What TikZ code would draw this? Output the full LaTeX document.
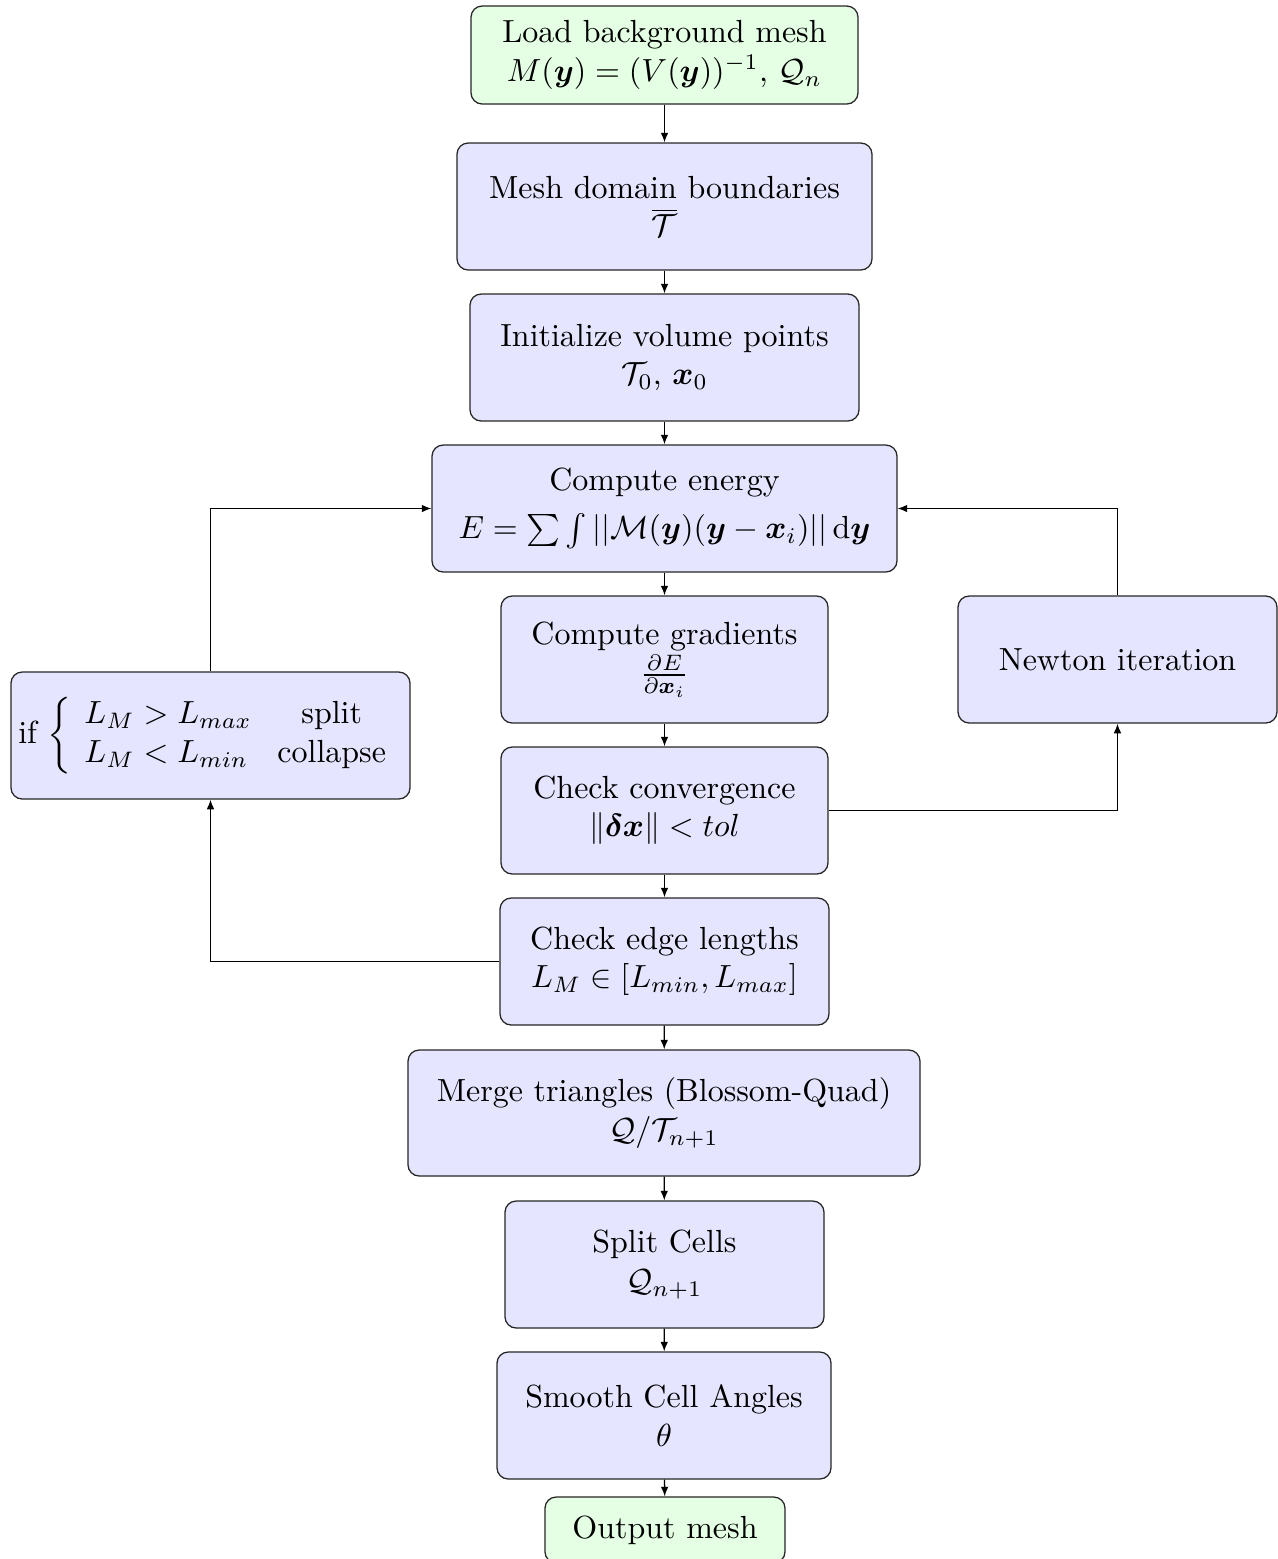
\documentclass[tikz,border=0pt]{standalone}
\usepackage{amsmath,amssymb}
\usetikzlibrary{arrows.meta}
\begin{document}
\begin{tikzpicture}[x=0.3125pt,y=-0.3125pt,
  box/.style={draw=black!85, rounded corners=3.5pt, fill=blue!10, align=center, inner sep=0pt, line width=0.4pt},
  gbox/.style={box, fill=green!10},
  arr/.style={-{Latex[length=3pt,width=2.4pt]}, line width=0.4pt}]
\useasboundingbox (0,0) rectangle (1278,1559);
\node[gbox, minimum width=387*0.3125pt, minimum height=98*0.3125pt] (load) at (664.5,55) {Load background mesh\\ $M(\boldsymbol{y})=(V(\boldsymbol{y}))^{-1}$, $\mathcal{Q}_n$};
\node[box, minimum width=415*0.3125pt, minimum height=127*0.3125pt] (dom) at (664.5,206.5) {Mesh domain boundaries\\ $\overline{\mathcal{T}}$};
\node[box, minimum width=389*0.3125pt, minimum height=127*0.3125pt] (init) at (664.5,357.5) {Initialize volume points\\ $\mathcal{T}_0$, $\boldsymbol{x}_0$};
\node[box, minimum width=465*0.3125pt, minimum height=127*0.3125pt] (energy) at (664.5,508.5) {Compute energy\\[3pt] $E=\sum\int||\mathcal{M}(\boldsymbol{y})(\boldsymbol{y}-\boldsymbol{x}_i)||\,\mathrm{d}\boldsymbol{y}$};
\node[box, minimum width=327*0.3125pt, minimum height=127*0.3125pt] (grad) at (664.5,659.5) {Compute gradients\\ $\frac{\partial E}{\partial \boldsymbol{x}_i}$};
\node[box, minimum width=319*0.3125pt, minimum height=127*0.3125pt] (newton) at (1117.5,659.5) {Newton iteration};
\node[box, minimum width=399*0.3125pt, minimum height=127*0.3125pt] (ifb) at (210.5,735.5) {if $\setlength{\arraycolsep}{4pt}\left\{\begin{array}{lc} L_M>L_{max} & \text{split}\\ L_M<L_{min} & \text{collapse}\end{array}\right.$};
\node[box, minimum width=327*0.3125pt, minimum height=127*0.3125pt] (conv) at (664.5,810.5) {Check convergence\\ $\|\boldsymbol{\delta x}\|<tol$};
\node[box, minimum width=329*0.3125pt, minimum height=127*0.3125pt] (edge) at (664.5,961.5) {Check edge lengths\\ $L_M\in[L_{min},L_{max}]$};
\node[box, minimum width=512*0.3125pt, minimum height=126*0.3125pt] (merge) at (664,1113) {Merge triangles (Blossom-Quad)\\ $\mathcal{Q}/\mathcal{T}_{n+1}$};
\node[box, minimum width=319*0.3125pt, minimum height=127*0.3125pt] (split) at (664.5,1264.5) {Split Cells\\ $\mathcal{Q}_{n+1}$};
\node[box, minimum width=334*0.3125pt, minimum height=127*0.3125pt] (smooth) at (664,1415.5) {Smooth Cell Angles\\ $\theta$};
\node[gbox, minimum width=240*0.3125pt, minimum height=66*0.3125pt] (out) at (665,1530) {Output mesh};
\draw[arr] (load) -- (dom);
\draw[arr] (dom) -- (init);
\draw[arr] (init) -- (energy);
\draw[arr] (energy) -- (grad);
\draw[arr] (grad) -- (conv);
\draw[arr] (conv) -- (edge);
\draw[arr] (edge) -- (merge);
\draw[arr] (merge) -- (split);
\draw[arr] (split) -- (smooth);
\draw[arr] (smooth) -- (out);
\draw[arr] (conv.east) -| (newton.south);
\draw[arr] (newton.north) |- (energy.east);
\draw[arr] (edge.west) -| (ifb.south);
\draw[arr] (ifb.north) |- (energy.west);
\end{tikzpicture}
\end{document}
